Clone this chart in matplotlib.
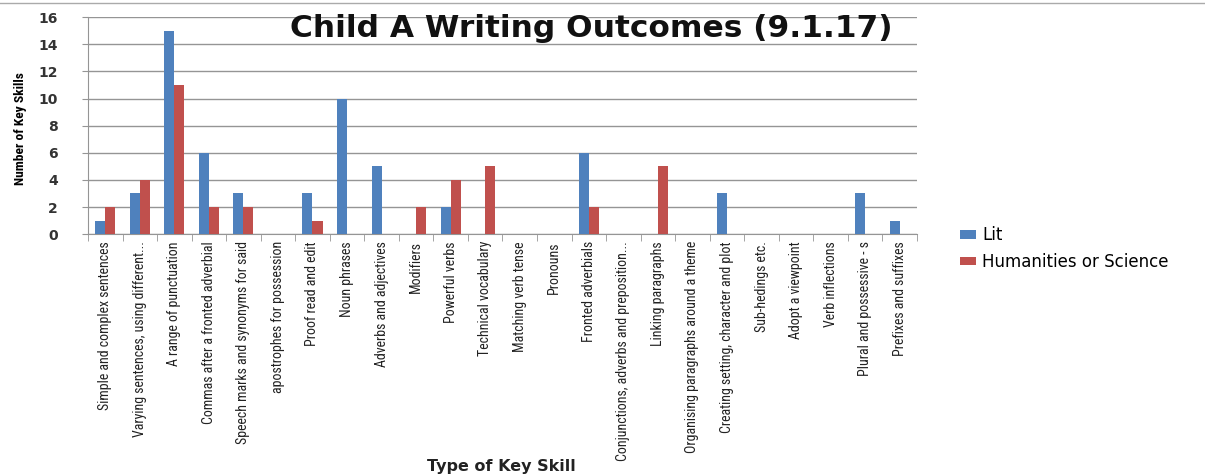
import matplotlib.pyplot as plt
import numpy as np
from matplotlib import font_manager
from matplotlib.lines import Line2D

# 数据
skills = [
    "Simple and complex sentences",
    "Varying sentences, using different...",
    "A range of punctuation",
    "Commas after a fronted adverbial",
    "Speech marks and synonyms for said",
    "apostrophes for possession",
    "Proof read and edit",
    "Noun phrases",
    "Adverbs and adjectives",
    "Modifiers",
    "Powerful verbs",
    "Technical vocabulary",
    "Matching verb tense",
    "Pronouns",
    "Fronted adverbials",
    "Conjunctions, adverbs and preposition...",
    "Linking paragraphs",
    "Organising paragraphs around a theme",
    "Creating setting, character and plot",
    "Sub-hedings etc.",
    "Adopt a viewpoint",
    "Verb inflections",
    "Plural and possessive - s",
    "Prefixes and suffixes",
]
lit = [1, 3, 15, 6, 3, 0, 3, 10, 5, 0, 2, 0, 0, 0, 6, 0, 0, 0, 3, 0, 0, 0, 3, 1]
hum = [2, 4, 11, 2, 2, 0, 1, 0, 0, 2, 4, 5, 0, 0, 2, 0, 5, 0, 0, 0, 0, 0, 0, 0]
y_ticks = [0, 2, 4, 6, 8, 10, 12, 14, 16]

lit_color = "#4F81BD"
hum_color = "#C0504D"
grid_color = "#959595"

# 找一个窄字体
installed = {f.name: f for f in font_manager.fontManager.ttflist}
narrow_fam = None
narrow_stretch = "normal"
for name in ["Liberation Sans Narrow", "Roboto Condensed", "Open Sans Condensed",
             "DejaVu Sans Condensed", "Noto Sans Condensed"]:
    if name in installed:
        narrow_fam = name
        break
if narrow_fam is None:
    for f in font_manager.fontManager.ttflist:
        if f.stretch in ("condensed", "semi-condensed", "extra-condensed") or \
                (isinstance(f.stretch, int) and f.stretch < 500):
            narrow_fam = f.name
            narrow_stretch = f.stretch
            break
if narrow_fam is None:
    narrow_fam = "DejaVu Sans"
    tick_size = 8.0
else:
    tick_size = 10
narrow = [narrow_fam, "DejaVu Sans"]

fig = plt.figure(figsize=(12.05, 4.75), dpi=100)
ax = fig.add_axes([0.073, 0.507, 0.688, 0.457])

x = np.arange(len(skills))
w = 0.29
ax.bar(x - w / 2, lit, width=w, color=lit_color, label="Lit", zorder=3)
ax.bar(x + w / 2, hum, width=w, color=hum_color, label="Humanities or Science", zorder=3)

ax.set_xlim(-0.5, len(skills) - 0.5)
ax.set_ylim(0, 16)
ax.set_yticks(y_ticks)
ax.yaxis.grid(True, color=grid_color, linewidth=1, zorder=0)

for s in ["top", "right"]:
    ax.spines[s].set_visible(False)
for s in ["left", "bottom"]:
    ax.spines[s].set_color(grid_color)

# 刻度
ax.set_xticks(x)
ax.set_xticklabels(skills, rotation=90, family=narrow, stretch=narrow_stretch,
                   fontsize=tick_size, color="#222222")
ax.tick_params(axis="x", which="major", length=0, pad=5)
ax.set_xticks(np.arange(-0.5, len(skills), 1), minor=True)
ax.tick_params(axis="x", which="minor", length=5, color=grid_color)
ax.tick_params(axis="y", length=4.5, color=grid_color, labelsize=10,
               labelcolor="#333333", pad=17)
for lab in ax.get_yticklabels():
    lab.set_fontweight("bold")

# 轴标题
fig.text(0.0166, 0.73, "Number of Key Skills", rotation=90, ha="center", va="center",
         family=narrow, stretch=narrow_stretch,
         fontsize=9.7 if narrow_fam != "DejaVu Sans" else 8, fontweight="bold")
fig.text(0.416, 0.018, "Type of Key Skill", ha="center", va="center",
         fontsize=11.5, fontweight="bold", color="#222222")

fig.text(0.491, 0.941, "Child A Writing Outcomes (9.1.17)",
         ha="center", va="center", fontsize=22.5, fontweight="bold", color="#111111")

ax.legend(loc="upper left", bbox_to_anchor=(0.7895, 0.541), bbox_transform=fig.transFigure,
          frameon=False, borderpad=0, fontsize=12, handlelength=1.0, handleheight=0.4,
          labelspacing=0.5, handletextpad=0.35)

# 顶部边框
fig.add_artist(Line2D([0, 1], [0.994, 0.994], color="#AAAAAA", linewidth=1,
                      transform=fig.transFigure))

fig.savefig("out.png", dpi=100)
